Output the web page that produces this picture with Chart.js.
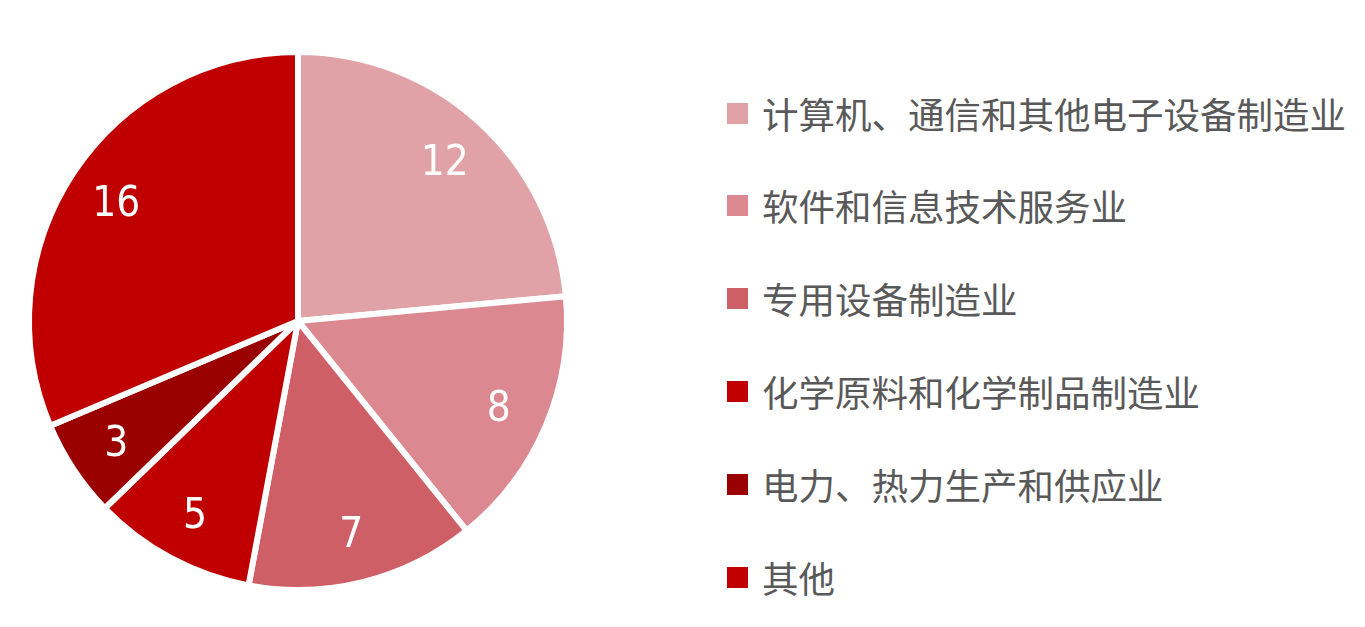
<!DOCTYPE html>
<html>
<head>
<meta charset="utf-8">
<script src="https://cdn.jsdelivr.net/npm/chart.js@4"></script>
<style>
  body { margin: 0; background: #fff; width: 1365px; height: 627px; overflow: hidden; position: relative; }
  #wrap { position: absolute; left: 0; top: 0; width: 596px; height: 627px; }
  #legend { position: absolute; left: 727px; top: 0; font-family: "Noto Sans CJK SC", "Noto Sans", sans-serif; font-size: 36.5px; color: #595959; }
  .item { position: absolute; left: 0; white-space: nowrap; display: flex; align-items: center; height: 40px; }
  .box { width: 21px; height: 21px; margin-right: 14px; }
</style>
</head>
<body>
<div id="wrap"><canvas id="myChart"></canvas></div>
<div id="legend"></div>
<script>
var categories = ['计算机、通信和其他电子设备制造业', '软件和信息技术服务业', '专用设备制造业', '化学原料和化学制品制造业', '电力、热力生产和供应业', '其他']
var values = [12, 8, 7, 5, 3, 16]
var colors = ['#E0A2A6', '#DB8890', '#CF5F66', '#C00000', '#9A0000', '#C00000']

// legend on the right
var legend = document.getElementById('legend')
categories.forEach(function (name, i) {
    var row = document.createElement('div')
    row.className = 'item'
    row.style.top = (93 + i * 92.8) + 'px'
    row.innerHTML = '<span class="box" style="background:' + colors[i] + '"></span>' + name
    legend.appendChild(row)
})

// white numbers inside slices
var sliceLabels = {
    id: 'sliceLabels',
    afterDatasetsDraw: function (chart) {
        var ctx = chart.ctx
        var meta = chart.getDatasetMeta(0)
        ctx.save()
        ctx.fillStyle = '#fff'
        ctx.font = '42px "DejaVu Sans Condensed", "Liberation Sans Narrow", sans-serif'
        ctx.textAlign = 'center'
        ctx.textBaseline = 'middle'
        meta.data.forEach(function (arc, i) {
            var p = arc.getProps(['x', 'y', 'startAngle', 'endAngle', 'outerRadius'])
            var mid = (p.startAngle + p.endAngle) / 2
            var r = p.outerRadius * 0.81
            ctx.fillText(values[i], p.x + Math.cos(mid) * r, p.y + Math.sin(mid) * r + 4)
        })
        ctx.restore()
    }
}

var myChart = document.getElementById('myChart').getContext('2d')
var chart = new Chart(myChart, {
    type: 'pie',
    data: {
        labels: categories,
        datasets: [{
            data: values,
            backgroundColor: colors,
            borderColor: '#fff',
            borderWidth: 6
        }]
    },
    options: {
        responsive: true,
        maintainAspectRatio: false,
        animation: false,
        layout: { padding: { top: 49, bottom: 34 } },
        plugins: {
            legend: { display: false },
            tooltip: { enabled: false }
        }
    },
    plugins: [sliceLabels]
})
</script>
</body>
</html>
